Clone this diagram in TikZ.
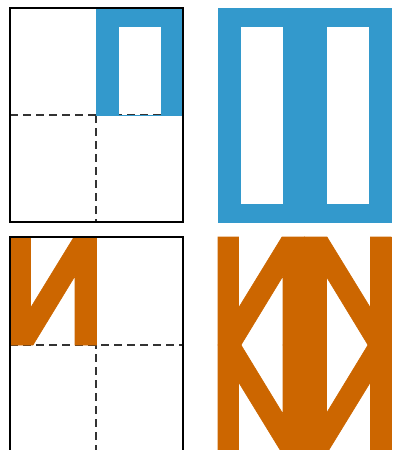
\documentclass[tikz,border=0pt]{standalone}
\usetikzlibrary{calc}
\definecolor{pblue}{RGB}{51,153,204}
\definecolor{porange}{RGB}{204,102,0}
\tikzset{
  frame/.style={draw=black, line width=1.1pt},
  cutline/.style={draw=black!80, line width=1.4pt, dash pattern=on 8pt off 5pt},
  bluefill/.style={fill=pblue, draw=pblue, line width=0.3pt},
  orangefill/.style={fill=porange, draw=porange, line width=0.6pt},
}
\newcommand{\orangequad}{%
  \path[orangefill] (0,0)--(20.5,0)--(20.5,71)--(64,0)--(86.5,0)--(86.5,108)--(65,108)--(65,39)--(23,108)--(0,108)--cycle;}
\begin{document}
\begin{tikzpicture}[x=1pt,y=-1pt]
\useasboundingbox (0,0) rectangle (394,450);
% ---------- top left panel ----------
\draw[cutline] (10,115) -- (183,115);
\draw[cutline] (96,115) -- (96,222);
\path[bluefill, even odd rule] (96,8) rectangle (183,115) (118,26) rectangle (161,115);
\draw[frame] (10,8) rectangle (183,222);
% ---------- top right panel ----------
\path[bluefill, even odd rule] (218,8) rectangle (391,222)
  (240,26) rectangle (283,204) (326,26) rectangle (369,204);
% ---------- bottom left panel ----------
\draw[cutline] (10,345) -- (183,345);
\draw[cutline] (96,237) -- (96,451);
\begin{scope}[shift={(10,237)}]\orangequad\end{scope}
\draw[frame] (10,237) rectangle (183,451);
% ---------- bottom right panel ----------
\begin{scope}[shift={(218,237)}]\orangequad\end{scope}
\begin{scope}[shift={(391,237)}, xscale=-1]\orangequad\end{scope}
\begin{scope}[shift={(218,453)}, yscale=-1]\orangequad\end{scope}
\begin{scope}[shift={(391,453)}, xscale=-1, yscale=-1]\orangequad\end{scope}
\path[orangefill] (283,237) rectangle (326,453);
\path[orangefill] (218,237) rectangle (238.5,453);
\path[orangefill] (370.5,237) rectangle (391,453);
\end{tikzpicture}
\end{document}
